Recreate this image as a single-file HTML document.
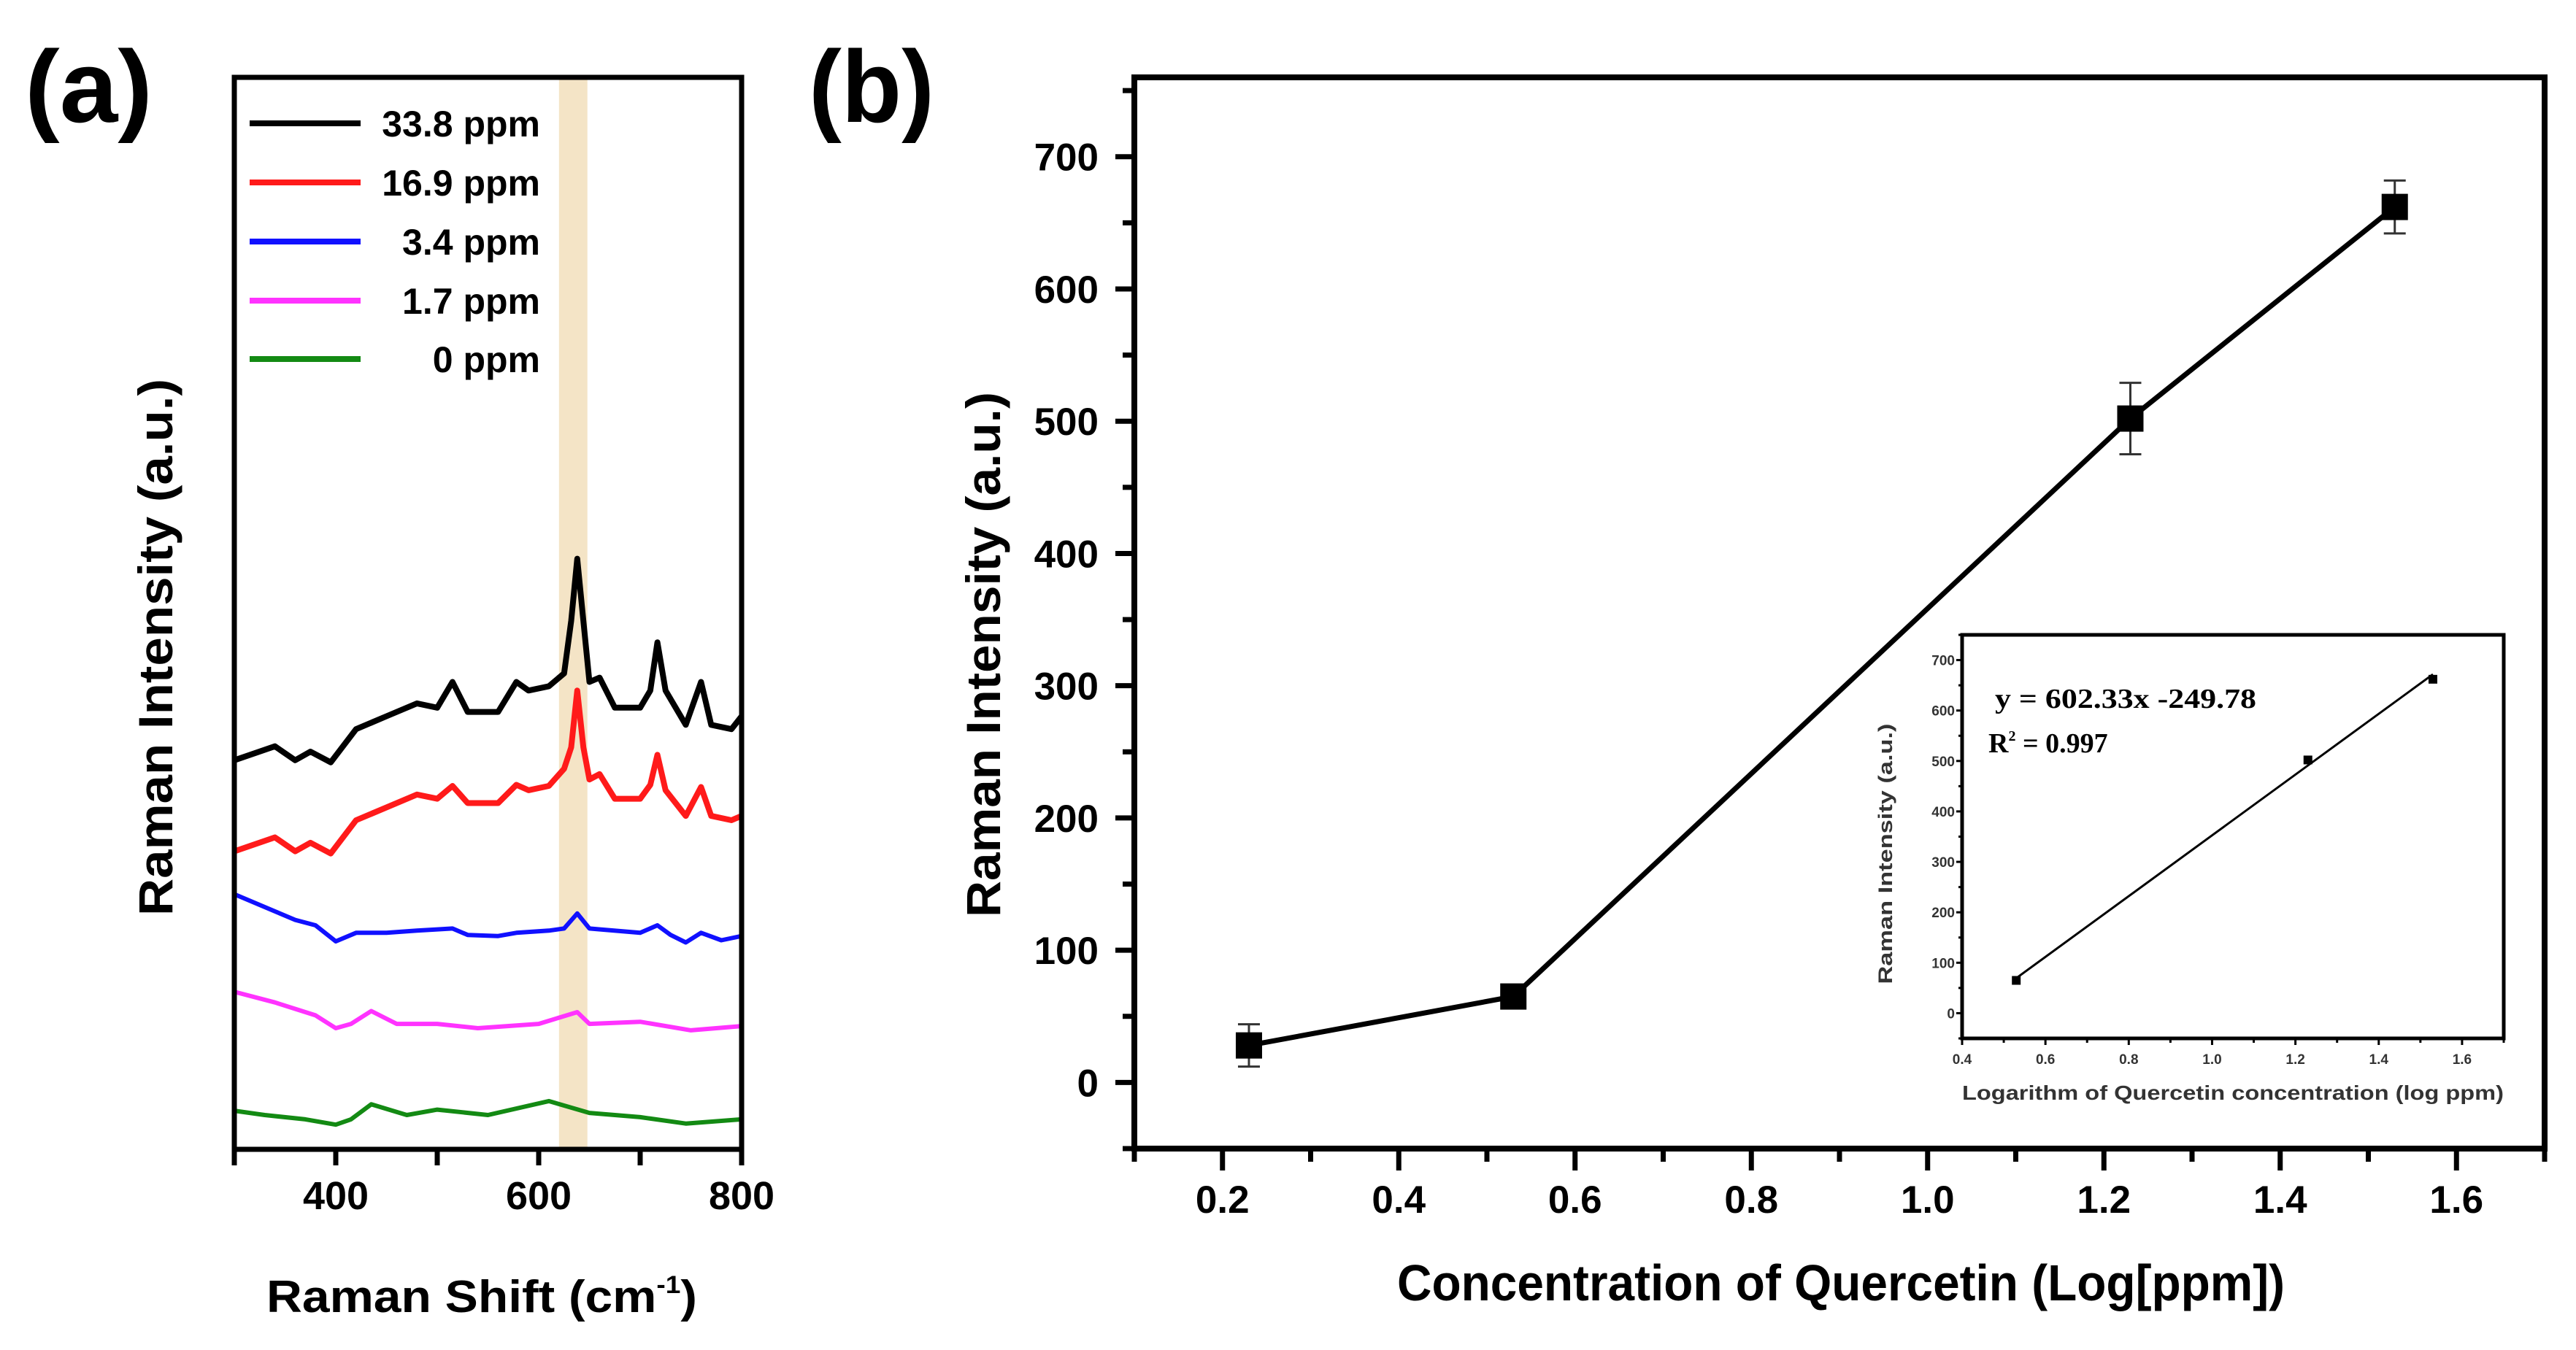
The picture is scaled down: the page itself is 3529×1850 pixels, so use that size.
<!DOCTYPE html>
<html><head><meta charset="utf-8"><style>
html,body{margin:0;padding:0;background:#fff;}
svg{display:block;font-family:"Liberation Sans",Arial,sans-serif;}
</style></head><body>
<svg id="fig" width="3529" height="1850" viewBox="0 0 3529 1850" xmlns="http://www.w3.org/2000/svg">
<g id="pa"></g>
<g id="pb"></g>
<g id="pi"></g>
</svg>
<script>
// ---------- Panel (a) data ----------
const blackX=[300,340,360,375,395,420,450,480,500,515,530,560,578,590,610,625,632,638,644,650,660,675,700,710,717,725,745,760,770,790,800];
const blackY=[36.3,37.6,36.3,37.1,36.1,39.2,40.4,41.6,41.2,43.6,40.8,40.8,43.6,42.8,43.2,44.4,49.3,55.1,49.3,43.6,44.0,41.2,41.2,42.8,47.3,42.8,39.6,43.6,39.6,39.2,40.4];
const redX=[300,340,360,375,395,420,450,480,500,515,530,560,578,590,610,625,632,638,644,650,660,675,700,710,717,725,745,760,770,790,800];
const redY=[27.8,29.1,27.8,28.6,27.6,30.7,31.9,33.1,32.7,33.9,32.3,32.3,34.0,33.5,33.9,35.5,37.5,42.8,37.5,34.5,35.0,32.7,32.7,34.0,36.8,33.5,31.1,33.8,31.1,30.7,31.1];
const blueX=[300,340,360,380,400,420,450,480,515,530,560,578,610,625,638,650,700,717,730,745,760,780,800];
const blueY=[23.8,22.2,21.4,20.9,19.4,20.2,20.2,20.4,20.6,20.0,19.9,20.2,20.4,20.6,22.0,20.6,20.2,20.9,20.0,19.3,20.2,19.5,19.9];
const magX=[300,340,380,400,415,435,460,500,540,600,638,650,700,750,800];
const magY=[14.7,13.7,12.5,11.3,11.7,12.9,11.7,11.7,11.3,11.7,12.8,11.7,11.9,11.1,11.5];
const greenX=[300,330,370,400,415,435,470,500,550,610,650,700,745,800];
const greenY=[3.6,3.2,2.8,2.3,2.8,4.2,3.2,3.7,3.2,4.5,3.4,3.0,2.4,2.8];
const aTicks=[300,400,500,600,700,800];
const aTickLabels=["400","600","800"];
const aTickLabelVals=[400,600,800];
const legendLabels=["33.8 ppm","16.9 ppm","3.4 ppm","1.7 ppm","0 ppm"];
const bandRange=[620,648];

// ---------- Panel (b) data ----------
const concX=[0.23,0.53,1.23,1.53];
const intensity=[28,65,502,662];
const errVals=[16,5,27,20];
const bYTicks=[0,100,200,300,400,500,600,700];
const bXTicks=[0.2,0.4,0.6,0.8,1.0,1.2,1.4,1.6];
const bXTickLabels=["0.2","0.4","0.6","0.8","1.0","1.2","1.4","1.6"];

// ---------- Inset data ----------
const insetX=[0.53,1.23,1.53];
const insetY=[65,502,662];
const fitSlope=602.33, fitIntercept=-249.78;
const insetXTicks=[0.4,0.6,0.8,1.0,1.2,1.4,1.6];
const insetXTickLabels=["0.4","0.6","0.8","1.0","1.2","1.4","1.6"];
const insetYTicks=[0,100,200,300,400,500,600,700];

const NS="http://www.w3.org/2000/svg";
function mk(parent,tag,attrs,text){const e=document.createElementNS(NS,tag);for(const k in attrs)e.setAttribute(k,attrs[k]);if(text!==undefined)e.textContent=text;parent.appendChild(e);return e;}
function lin(d0,d1,r0,r1){return v=>r0+(v-d0)*(r1-r0)/(d1-d0);}

// ===== Panel A =====
const pa=document.getElementById('pa');
const axL=321,axR=1016,axT=106,axB=1575;
const ax=lin(300,800,axL,axR), ay=lin(0,100,axB,axT);
let band=mk(pa,'rect',{x:ax(bandRange[0]),y:axT,width:ax(bandRange[1])-ax(bandRange[0]),height:axB-axT,fill:'#f4e4c6'});


const series=[[blackX,blackY,'#000000',8,'spectrum-33-8ppm'],[redX,redY,'#ff1a1a',8,'spectrum-16-9ppm'],[blueX,blueY,'#1010ff',6,'spectrum-3-4ppm'],[magX,magY,'#ff33ff',6,'spectrum-1-7ppm'],[greenX,greenY,'#138a13',6,'spectrum-0ppm']];
series.forEach(s=>{
  const d=s[0].map((x,i)=>(i?'L':'M')+ax(x).toFixed(1)+','+ay(s[1][i]).toFixed(1)).join('');
  const p=mk(pa,'path',{d:d,fill:'none',stroke:s[2],'stroke-width':s[3],'stroke-linejoin':'round'});
  
  
});
let fa=mk(pa,'rect',{x:axL,y:axT,width:axR-axL,height:axB-axT,fill:'none',stroke:'#000','stroke-width':7});


aTicks.forEach(t=>{const l=mk(pa,'line',{x1:ax(t),x2:ax(t),y1:axB,y2:axB+22,stroke:'#000','stroke-width':7});
  
  });
aTickLabelVals.forEach((v,i)=>{const t=mk(pa,'text',{x:ax(v),y:1657,'text-anchor':'middle','font-size':54,'font-weight':'bold'},aTickLabels[i]);
  
  });
const legY=[169,250,331,412,492];
legendLabels.forEach((lab,i)=>{
  const g=mk(pa,'g',{});
  
  
  mk(g,'line',{x1:342,x2:494,y1:legY[i],y2:legY[i],stroke:series[i][2],'stroke-width':8});
  mk(g,'text',{x:740,y:legY[i]+18,'text-anchor':'end','font-size':50,'font-weight':'bold'},lab);
});

// ===== Panel B =====
const pb=document.getElementById('pb');
const bL=1554,bR=3486,bT=106,bB=1574;
const bx=lin(0.1,1.7,bL,bR), by=lin(-50,760,bB,bT);
let fb=mk(pb,'rect',{x:bL,y:bT,width:bR-bL,height:bB-bT,fill:'none',stroke:'#000','stroke-width':8});


for(let v=-50;v<=750;v+=50){const major=bYTicks.indexOf(v)>=0;
  const l=mk(pb,'line',{x1:bL,x2:bL-(major?26:16),y1:by(v),y2:by(v),stroke:'#000','stroke-width':7});
  
  }
bYTicks.forEach(v=>{const t=mk(pb,'text',{x:1505,y:by(v)+19,'text-anchor':'end','font-size':53,'font-weight':'bold'},String(v));
  
  });
for(let k=1;k<=17;k++){const v=k/10;const major=bXTicks.some(t=>Math.abs(t-v)<1e-6);
  const l=mk(pb,'line',{x1:bx(v),x2:bx(v),y1:bB,y2:bB+(major?30:18),stroke:'#000','stroke-width':7});
  
  }
bXTicks.forEach((v,i)=>{const t=mk(pb,'text',{x:bx(v),y:1662,'text-anchor':'middle','font-size':53,'font-weight':'bold'},bXTickLabels[i]);
  
  });
const ld=concX.map((x,i)=>(i?'L':'M')+bx(x).toFixed(1)+','+by(intensity[i]).toFixed(1)).join('');
let ln=mk(pb,'path',{d:ld,fill:'none',stroke:'#000','stroke-width':7});


concX.forEach((x,i)=>{
  const g=mk(pb,'g',{});
  
  
  const cx=bx(x),y0=by(intensity[i]-errVals[i]),y1=by(intensity[i]+errVals[i]);
  mk(g,'line',{x1:cx,x2:cx,y1:y0,y2:y1,stroke:'#333','stroke-width':3});
  mk(g,'line',{x1:cx-15,x2:cx+15,y1:y0,y2:y0,stroke:'#333','stroke-width':3});
  mk(g,'line',{x1:cx-15,x2:cx+15,y1:y1,y2:y1,stroke:'#333','stroke-width':3});
  mk(g,'rect',{x:cx-18,y:by(intensity[i])-18,width:36,height:36,fill:'#000'});
});

// ===== Inset =====
const pi=document.getElementById('pi');
const iL=2688,iR=3430,iT=870,iB=1423;
const ix=lin(0.4,1.7,iL,iR), iy=lin(-50,750,iB,iT);
mk(pi,'rect',{x:iL,y:iT,width:iR-iL,height:iB-iT,fill:'#fff'});
let fi=mk(pi,'rect',{x:iL,y:iT,width:iR-iL,height:iB-iT,fill:'none',stroke:'#000','stroke-width':5});


for(let v=-50;v<=750;v+=50){const major=v%100===0;
  const l=mk(pi,'line',{x1:iL,x2:iL-(major?8:5),y1:iy(v),y2:iy(v),stroke:'#000','stroke-width':3});
  
  }
insetYTicks.forEach(v=>{const t=mk(pi,'text',{x:2678,y:iy(v)+7,'text-anchor':'end','font-size':19,'font-weight':'bold',fill:'#333'},String(v));
  
  });
for(let k=4;k<=17;k++){const v=k/10;const major=k%2===0;
  const l=mk(pi,'line',{x1:ix(v),x2:ix(v),y1:iB,y2:iB+(major?9:6),stroke:'#000','stroke-width':3});
  
  }
insetXTicks.forEach((v,i)=>{const t=mk(pi,'text',{x:ix(v),y:1458,'text-anchor':'middle','font-size':19,'font-weight':'bold',fill:'#333'},insetXTickLabels[i]);
  
  });
const fx0=insetX[0],fx1=insetX[insetX.length-1];
let fl=mk(pi,'line',{x1:ix(fx0),y1:iy(fitSlope*fx0+fitIntercept),x2:ix(fx1),y2:iy(fitSlope*fx1+fitIntercept),stroke:'#000','stroke-width':3});


insetX.forEach((x,i)=>{const r=mk(pi,'rect',{x:ix(x)-6,y:iy(insetY[i])-6,width:12,height:12,fill:'#000'});
  
  });
</script>
<div style="position:absolute;left:0;top:0;width:3529px;height:1850px;pointer-events:none">
<svg width="3529" height="1850" viewBox="0 0 3529 1850" style="font-family:'Liberation Sans',Arial,sans-serif">
<text x="34" y="167" font-size="140" font-weight="bold" textLength="175" lengthAdjust="spacingAndGlyphs">(a)</text>
<text x="1108" y="167" font-size="140" font-weight="bold" textLength="172" lengthAdjust="spacingAndGlyphs">(b)</text>
<text transform="translate(236,887) rotate(-90)" text-anchor="middle" font-size="66" font-weight="bold" textLength="736" lengthAdjust="spacingAndGlyphs">Raman Intensity (a.u.)</text>
<text x="365" y="1798" font-size="62" font-weight="bold" textLength="590" lengthAdjust="spacingAndGlyphs">Raman Shift (cm<tspan dy="-26" font-size="34">-1</tspan><tspan dy="26">)</tspan></text>
<text transform="translate(1370,897) rotate(-90)" text-anchor="middle" font-size="66" font-weight="bold" textLength="720" lengthAdjust="spacingAndGlyphs">Raman Intensity (a.u.)</text>
<text x="1914" y="1782" font-size="70" font-weight="bold" textLength="1216" lengthAdjust="spacingAndGlyphs">Concentration of Quercetin (Log[ppm])</text>
<text transform="translate(2592,1170) rotate(-90)" text-anchor="middle" font-size="27" font-weight="bold" fill="#333" textLength="357" lengthAdjust="spacingAndGlyphs">Raman Intensity (a.u.)</text>
<text x="2688" y="1507" font-size="28" font-weight="bold" fill="#333" textLength="742" lengthAdjust="spacingAndGlyphs">Logarithm of Quercetin concentration (log ppm)</text>
<text x="2733" y="970" font-family="'Liberation Serif',serif" font-size="38" font-weight="bold" textLength="358" lengthAdjust="spacingAndGlyphs">y  = 602.33x -249.78</text>
<text x="2724" y="1031" font-family="'Liberation Serif',serif" font-size="38" font-weight="bold">R<tspan dy="-16" font-size="20">2</tspan><tspan dy="16"> = 0.997</tspan></text>
</svg></div>
</body></html>
